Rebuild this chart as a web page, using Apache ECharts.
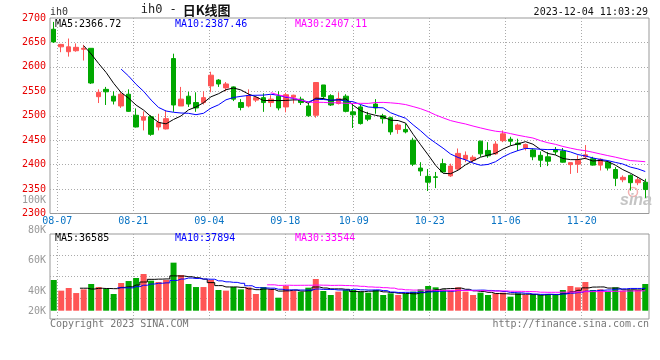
<!DOCTYPE html>
<html><head><meta charset="utf-8">
<script src="https://cdn.jsdelivr.net/npm/echarts@6/dist/echarts.min.js"></script>
<style>html,body{margin:0;padding:0;background:#fff}#c{width:660px;height:360px}</style>
</head><body><div id="c"></div>
<script>
const dates = ['08-07','08-08','08-09','08-10','08-11','08-14','08-15','08-16','08-17','08-18',
'08-21','08-22','08-23','08-24','08-25','08-28','08-29','08-30','08-31','09-01',
'09-04','09-05','09-06','09-07','09-08','09-11','09-12','09-13','09-14','09-15',
'09-18','09-19','09-20','09-21','09-22','09-25','09-26','09-27','09-28',
'10-09','10-10','10-11','10-12','10-13','10-16','10-17','10-18','10-19','10-20',
'10-23','10-24','10-25','10-26','10-27','10-30','10-31','11-01','11-02','11-03',
'11-06','11-07','11-08','11-09','11-10','11-13','11-14','11-15','11-16','11-17',
'11-20','11-21','11-22','11-23','11-24','11-27','11-28','11-29','11-30','12-01','12-04'];
const tickDates = ['08-07','08-21','09-04','09-18','10-09','10-23','11-06','11-20'];
const opens = [2677,2641,2631,2633,2636,2638,2539,2554,2540,2520,
2544,2501,2491,2498,2477,2473,2617,2520,2540,2527,
2527,2561,2573,2557,2559,2527,2520,2532,2537,2527,
2540,2518,2538,2534,2520,2501,2563,2541,2525,2540,
2508,2518,2501,2524,2500,2496,2472,2472,2450,2393,
2376,2375,2402,2377,2391,2411,2409,2448,2429,2422,
2449,2452,2444,2434,2430,2419,2416,2431,2428,2400,
2401,2416,2412,2399,2405,2390,2369,2378,2363,2364];
const closes = [2651,2646,2641,2640,2638,2567,2548,2549,2530,2544,
2509,2477,2498,2462,2486,2494,2522,2534,2524,2516,
2537,2583,2565,2565,2534,2517,2541,2537,2527,2534,
2516,2543,2542,2527,2500,2568,2539,2522,2535,2509,
2502,2484,2493,2516,2494,2467,2481,2467,2401,2387,
2364,2374,2385,2397,2423,2419,2415,2422,2418,2442,
2463,2448,2441,2441,2416,2409,2407,2426,2405,2404,
2409,2420,2399,2411,2393,2372,2374,2363,2369,2349];
const lows = [2649,2630,2621,2631,2613,2565,2526,2522,2523,2516,
2508,2476,2470,2459,2470,2472,2508,2520,2518,2508,
2523,2548,2559,2550,2530,2511,2517,2528,2508,2518,
2511,2507,2525,2522,2498,2496,2534,2520,2523,2507,
2475,2482,2489,2504,2484,2461,2463,2464,2397,2377,
2346,2352,2383,2375,2388,2405,2405,2416,2414,2420,
2446,2439,2428,2429,2409,2395,2397,2420,2404,2381,
2383,2411,2398,2388,2388,2356,2364,2347,2358,2332];
const highs = [2692,2647,2658,2648,2645,2638,2554,2559,2550,2549,
2554,2515,2509,2501,2504,2511,2627,2559,2549,2548,
2550,2590,2575,2569,2560,2534,2554,2539,2546,2542,
2550,2547,2543,2539,2527,2569,2563,2544,2548,2544,
2522,2522,2508,2534,2504,2498,2484,2484,2455,2405,
2391,2385,2412,2402,2433,2427,2419,2449,2446,2448,
2470,2457,2453,2443,2433,2427,2426,2436,2434,2405,
2419,2440,2416,2413,2408,2395,2378,2380,2375,2371];
const volumes = [51600,33700,38200,29700,35900,44900,39800,36500,28100,46600,
49900,55000,61700,50500,48300,51600,80800,60000,44900,39800,
39800,51600,34800,33700,39800,35900,39300,28100,39800,35900,
21900,41500,33700,32000,38700,53300,33100,26400,32000,34800,
34800,32000,30300,34800,26400,29200,26400,28100,32000,35900,
41500,39300,35900,33700,39300,32000,26400,30300,26400,29200,
30300,23600,29200,26400,26400,26400,28100,28100,34800,41500,
39300,48300,34800,35900,32000,39300,33700,34800,34800,44900];
const priceMaLabels = ['MA5:2366.72','MA10:2387.46','MA30:2407.11'];
const volMaLabels = ['MA5:36585','MA10:37894','MA30:33544'];
const volTickValues = [20000,40000,60000,80000,100000];

const UP = '#ff5555', DOWN = '#00a800';
const MA_COLORS = ['#000000','#0000ff','#ff00ff'];
const MONO = 'DejaVu Sans Mono';

function movingAverage(arr, n) {
  return arr.map((_, i) => {
    if (i < n - 1) return '-';
    let s = 0;
    for (let k = i - n + 1; k <= i; k++) s += arr[k];
    return +(s / n).toFixed(2);
  });
}

const candleData = opens.map((o, i) => [o, closes[i], lows[i], highs[i]]);
const volData = volumes.map((v, i) => ({value: v, itemStyle: {color: closes[i] >= opens[i] ? UP : DOWN}}));
const dotted = {color: '#aaaaaa', type: [1, 2], width: 1};
const isTick = (i, v) => tickDates.indexOf(v) >= 0;

const chart = echarts.init(document.getElementById('c'));
const maPeriods = [5, 10, 30];

const series = [{
  type: 'candlestick', xAxisIndex: 0, yAxisIndex: 0, data: candleData, barWidth: 5,
  itemStyle: {color: UP, color0: DOWN, borderColor: UP, borderColor0: DOWN, borderWidth: 1}
}];
maPeriods.forEach((n, k) => series.push({
  type: 'line', xAxisIndex: 0, yAxisIndex: 0, data: movingAverage(closes, n),
  showSymbol: false, symbol: 'none', lineStyle: {color: MA_COLORS[k], width: 1}, z: 5
}));
series.push({type: 'bar', xAxisIndex: 4, yAxisIndex: 4, data: volData, barWidth: 6});
maPeriods.forEach((n, k) => series.push({
  type: 'line', xAxisIndex: 4, yAxisIndex: 4, data: movingAverage(volumes, n), step: 'middle',
  showSymbol: false, symbol: 'none', lineStyle: {color: MA_COLORS[k], width: 1}, z: 5
}));

const txt = (x, y, text, fill, font, align) => ({
  type: 'text', x: x, y: y, silent: true,
  style: {text: text, fill: fill, font: font, textAlign: align || 'left', textVerticalAlign: 'middle'}
});
const graphic = [
  txt(50, 12.3, 'ih0', '#333', '10px "' + MONO + '"'),
  txt(140.7, 10, 'ih0 -', '#222', '12px "' + MONO + '"'),
  txt(182.7, 10, '日K线图', '#111', 'bold 13px "Noto Sans CJK SC"'),
  txt(648, 12, '2023-12-04 11:03:29', '#111', '10px "' + MONO + '"', 'right'),
  txt(55, 24, priceMaLabels[0], MA_COLORS[0], '10px "' + MONO + '"'),
  txt(175, 24, priceMaLabels[1], MA_COLORS[1], '10px "' + MONO + '"'),
  txt(295, 24, priceMaLabels[2], MA_COLORS[2], '10px "' + MONO + '"'),
  txt(55, 238.3, volMaLabels[0], MA_COLORS[0], '10px "' + MONO + '"'),
  txt(175, 238.3, volMaLabels[1], MA_COLORS[1], '10px "' + MONO + '"'),
  txt(295, 238.3, volMaLabels[2], MA_COLORS[2], '10px "' + MONO + '"'),
  txt(50, 324, 'Copyright 2023 SINA.COM', '#777', '10px "' + MONO + '"'),
  txt(649, 324, 'http://finance.sina.com.cn', '#777', '10px "' + MONO + '"', 'right'),
  {type: 'circle', silent: true, shape: {cx: 633, cy: 192, r: 4.5}, style: {fill: 'none', stroke: '#f3b0b0', lineWidth: 1.5}},
  txt(620, 201, 'sina', '#c4c4c4', 'italic bold 16px "Liberation Sans"')
];

const hidden = {show: false};
chart.setOption({
  animation: false,
  backgroundColor: '#ffffff',
  grid: [
    {left: 50, top: 18, width: 599, height: 195.5, show: true, borderColor: '#999', borderWidth: 1},
    {left: 57.3, top: 18, width: 600.4, height: 195.5},
    {left: 50, top: 234, width: 599, height: 85, show: true, borderColor: '#999', borderWidth: 1},
    {left: 57.3, top: 234, width: 600.4, height: 85},
    {left: 50, top: 234, width: 599, height: 76.7},
    {left: 50, top: 200.3, width: 599, height: 121.2}
  ],
  xAxis: [
    {gridIndex: 0, type: 'category', data: dates, boundaryGap: true, axisLine: hidden, axisTick: hidden, axisLabel: hidden, splitLine: hidden},
    {gridIndex: 1, type: 'category', data: dates, boundaryGap: false, axisLine: hidden, axisTick: hidden,
      axisLabel: {show: true, interval: isTick, color: '#0a74c4', fontFamily: MONO, fontSize: 10, margin: 3},
      splitLine: {show: true, interval: isTick, lineStyle: dotted}},
    {gridIndex: 2, type: 'category', data: dates, show: false},
    {gridIndex: 3, type: 'category', data: dates, boundaryGap: false, axisLine: hidden, axisTick: hidden, axisLabel: hidden,
      splitLine: {show: true, interval: isTick, lineStyle: dotted}},
    {gridIndex: 4, type: 'category', data: dates, boundaryGap: true, show: false},
    {gridIndex: 5, type: 'category', data: dates, show: false}
  ],
  yAxis: [
    {gridIndex: 0, type: 'value', min: 2300, max: 2700, interval: 50, axisLine: hidden, axisTick: hidden,
      axisLabel: {color: '#e80000', fontFamily: MONO, fontSize: 10, margin: 4, formatter: v => String(v)},
      splitLine: {show: true, showMinLine: false, showMaxLine: false, lineStyle: dotted}},
    {gridIndex: 1, type: 'value', show: false},
    {gridIndex: 2, type: 'value', min: 0, max: 4, interval: 1, axisLine: hidden, axisTick: hidden, axisLabel: hidden,
      splitLine: {show: true, showMinLine: false, showMaxLine: false, lineStyle: dotted}},
    {gridIndex: 3, type: 'value', show: false},
    {gridIndex: 4, type: 'value', min: 0, max: 129000, show: false},
    {gridIndex: 5, type: 'value', min: volTickValues[0], max: volTickValues[volTickValues.length - 1], interval: 20000,
      axisLine: hidden, axisTick: hidden, splitLine: hidden,
      axisLabel: {margin: 4, color: '#999', fontFamily: MONO, fontSize: 10,
        formatter: v => (v === volTickValues[0] ? '{s|' : '{n|') + (v / 1000) + 'K}',
        rich: {
          s: {color: '#999', fontFamily: MONO, fontSize: 10, padding: [0, 0, 21, 0]},
          n: {color: '#999', fontFamily: MONO, fontSize: 10}
        }}}
  ],
  series: series,
  graphic: graphic
});
</script></body></html>
